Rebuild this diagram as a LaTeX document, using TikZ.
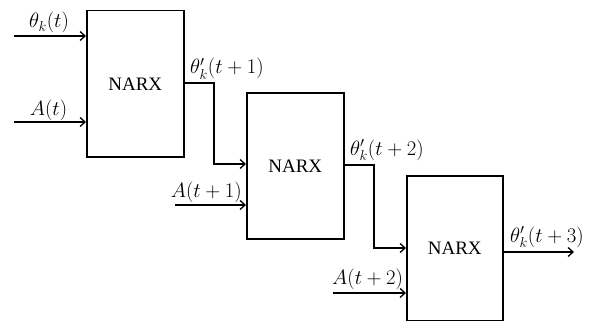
\documentclass[tikz,border=0pt]{standalone}
\usepackage{fontspec}
\newfontfamily\narxfont{Liberation Serif}
\usetikzlibrary{arrows.meta}
\begin{document}
\begin{tikzpicture}[x=1pt,y=-1pt,
  blockbox/.style={draw,line width=1.5pt,minimum width=97pt,minimum height=146pt,inner sep=0pt,font=\narxfont\fontsize{19}{22}\selectfont},
  sig/.style={line width=1.5pt,-{Straight Barb[length=5pt,width=9pt,line width=1.3pt]}},
  lbl/.style={inner sep=0pt,font=\fontsize{20}{24}\selectfont}]
\useasboundingbox (0,0) rectangle (597,321);
\node[blockbox,anchor=north west] (b1) at (86,10) {NARX};
\node[blockbox,anchor=north west] (b2) at (246,92) {NARX};
\node[blockbox,anchor=north west,minimum width=96pt,minimum height=145pt] (b3) at (406,175) {NARX};
% inputs of block 1
\coordinate (in1) at (14,36);
\coordinate (in2) at (14,122);
\draw[sig] (in1) -- (in1 -| b1.west);
\draw[sig] (in2) -- (in2 -| b1.west);
\node[lbl,anchor=base] (l1) at (49,28) {$\theta_k(t)$};
\node[lbl,anchor=base] (l2) at (48.5,115) {$A(t)$};
% block 1 -> block 2
\coordinate (o1) at (b1.east |- 0,83);
\coordinate (c1a) at (214,83);
\coordinate (c1b) at (214,164);
\draw[sig] (o1) -- (c1a) -- (c1b) -- (c1b -| b2.west);
\node[lbl,anchor=base west] (l3) at (190,74) {$\theta'_k(t+1)$};
\coordinate (in3) at (175,205);
\draw[sig] (in3) -- (in3 -| b2.west);
\node[lbl,anchor=base east] (l4) at (242,197) {$A(t+1)$};
% block 2 -> block 3
\coordinate (o2) at (b2.east |- 0,165);
\coordinate (c2a) at (374,165);
\coordinate (c2b) at (374,248);
\draw[sig] (o2) -- (c2a) -- (c2b) -- (c2b -| b3.west);
\node[lbl,anchor=base west] (l5) at (350,155) {$\theta'_k(t+2)$};
\coordinate (in4) at (333,293);
\draw[sig] (in4) -- (in4 -| b3.west);
\node[lbl,anchor=base west] (l6) at (332,284) {$A(t+2)$};
% output of block 3
\coordinate (o3) at (b3.east |- 0,252);
\coordinate (out) at (574,252);
\draw[sig] (o3) -- (out);
\node[lbl,anchor=base west] (l7) at (510,242) {$\theta'_k(t+3)$};
\end{tikzpicture}
\end{document}
